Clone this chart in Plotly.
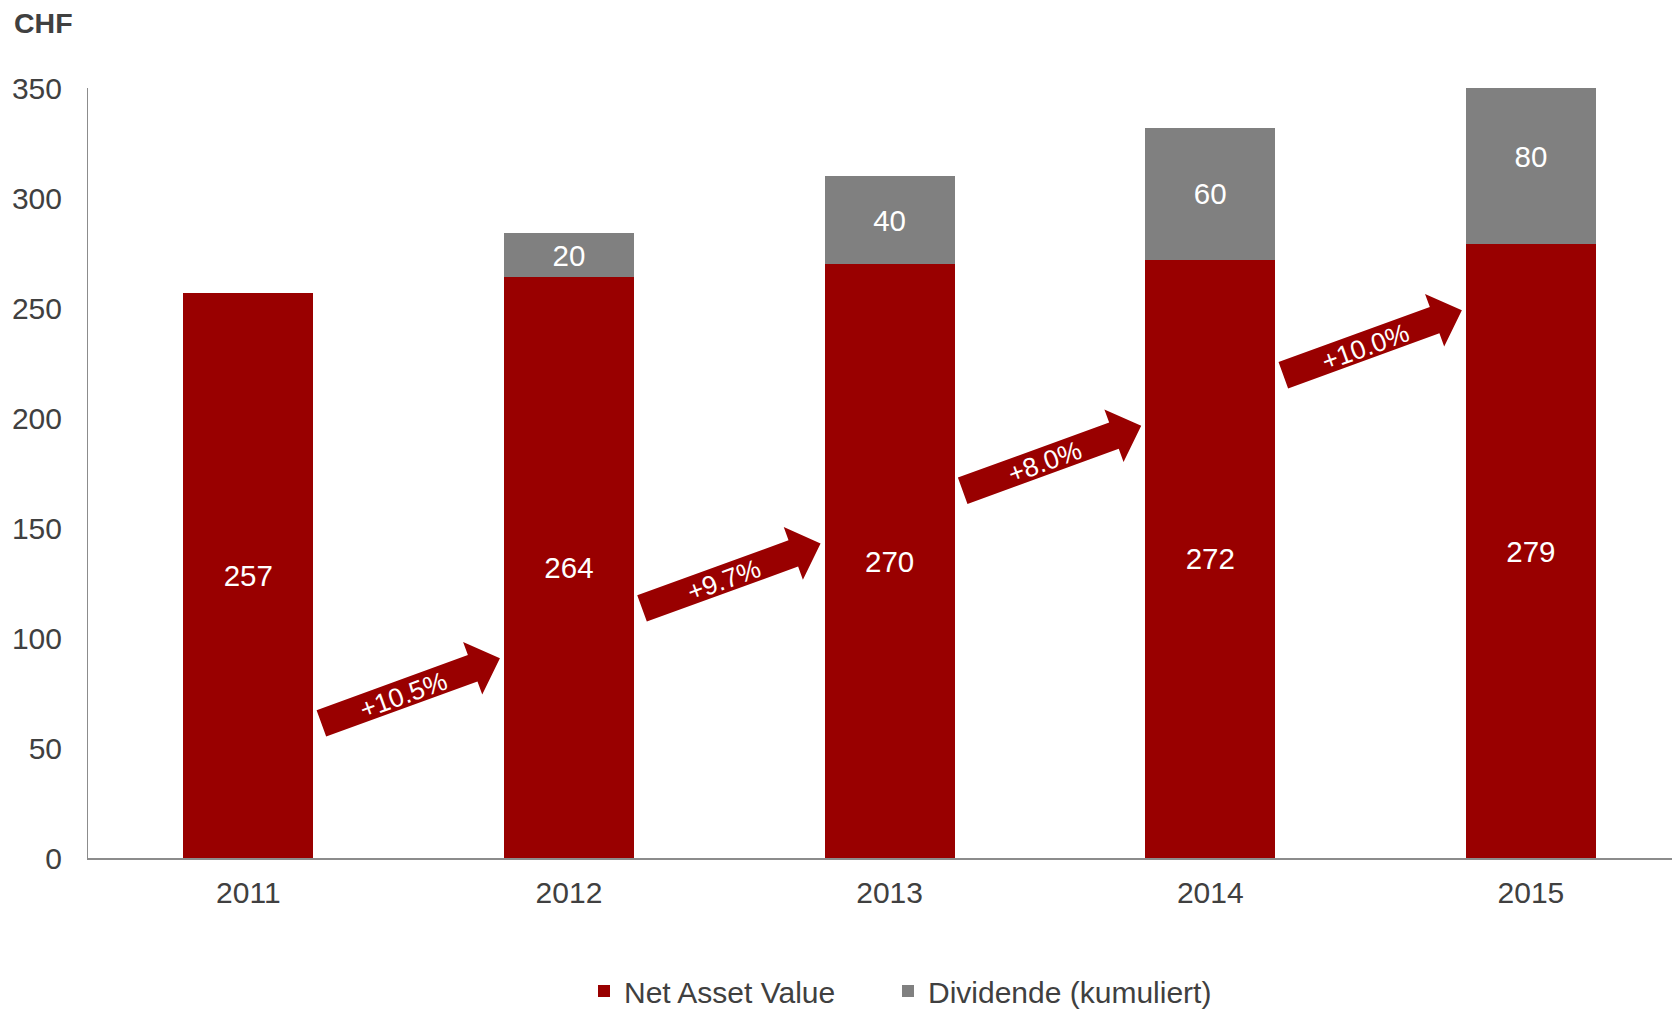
import math
import plotly.graph_objects as go

# Values (CHF per share)
years = ["2011", "2012", "2013", "2014", "2015"]
net_asset_value = [257, 264, 270, 272, 279]
dividend_cumulative = [None, 20, 40, 60, 80]
growth_labels = ["+10.5%", "+9.7%", "+8.0%", "+10.0%"]

# Styling / layout constants
RED = "#990000"
GREY = "#808080"
TEXT = "#404040"
AXIS = "#8c8c8c"
FONT = "Arial, Liberation Sans, sans-serif"
W, H = 1672, 1010
ML, MR, MT, MB = 88, 0, 88, 152
PLOT_W = W - ML - MR
PLOT_H = H - MT - MB

# vertical centre (y-axis units) of each growth arrow
ARROW_Y = [76, 128.2, 181.7, 234.2]
ARROW_ANGLE = 20.0
ARROW_LEN = 190
HEAD_LEN = 29
SHAFT_W = 28
HEAD_W = 56

# legend entry left edges and vertical centre, in pixels
LEGEND_X = [584, 888]
LEGEND_Y = 991


def arrow_path(dx=2.0):
    half = ARROW_LEN / 2
    neck = half - HEAD_LEN
    pts = [(-half, -SHAFT_W / 2), (neck, -SHAFT_W / 2), (neck, -HEAD_W / 2),
           (half, 0), (neck, HEAD_W / 2), (neck, SHAFT_W / 2), (-half, SHAFT_W / 2)]
    a = math.radians(ARROW_ANGLE)
    out = []
    for u, v in pts:
        x = u * math.cos(a) - v * math.sin(a) + dx
        y = u * math.sin(a) + v * math.cos(a)
        out.append(f"{x:.2f},{y:.2f}")
    return "M" + " L".join(out) + " Z"


label_font = dict(color="white", size=29.5, family=FONT)

fig = go.Figure()
fig.add_trace(go.Bar(
    name="Net Asset Value", x=years, y=net_asset_value, marker_color=RED,
    marker_line_width=0, text=[str(v) for v in net_asset_value],
    textposition="inside", insidetextanchor="middle", textangle=0,
    constraintext="none", textfont=label_font, legend="legend",
))
fig.add_trace(go.Bar(
    name="Dividende (kumuliert)", x=years, y=dividend_cumulative, marker_color=GREY,
    marker_line_width=0, text=[str(v) if v else "" for v in dividend_cumulative],
    textposition="inside", insidetextanchor="middle", textangle=0,
    constraintext="none", textfont=label_font, legend="legend2",
))

shapes = []
annotations = []
path = arrow_path()
for i, label in enumerate(growth_labels):
    shapes.append(dict(
        type="path", xref="x", yref="y", xsizemode="pixel", ysizemode="pixel",
        xanchor=i + 0.5, yanchor=ARROW_Y[i], path=path,
        fillcolor=RED, line=dict(width=0), layer="above",
    ))
    annotations.append(dict(
        x=i + 0.5, y=ARROW_Y[i], xref="x", yref="y", text=label,
        showarrow=False, textangle=-ARROW_ANGLE, xshift=-5, yshift=-4,
        font=dict(color="white", size=26.5, family=FONT),
    ))


def legend_box(px):
    return dict(orientation="h", x=(px - ML) / PLOT_W, xanchor="left",
                y=-(LEGEND_Y - (H - MB)) / PLOT_H, yanchor="middle",
                font=dict(size=30, color=TEXT), bgcolor="rgba(0,0,0,0)")


fig.update_layout(
    width=W, height=H, autosize=False,
    margin=dict(l=ML, r=MR, t=MT, b=MB, pad=0, autoexpand=False),
    barmode="stack", bargap=0.595,
    plot_bgcolor="white", paper_bgcolor="white",
    font=dict(family=FONT, size=30, color=TEXT),
    title=dict(text="<b>CHF</b>", x=14 / W, xanchor="left", xref="container",
               y=1 - 23 / H, yanchor="middle", yref="container",
               font=dict(size=28.5, color=TEXT, family=FONT)),
    xaxis=dict(type="category", range=[-0.5, 4.44], showline=True,
               linecolor=AXIS, linewidth=2, ticks="", showgrid=False,
               tickfont=dict(size=30, color=TEXT), ticklabelstandoff=7),
    yaxis=dict(range=[0, 350], tickvals=list(range(0, 351, 50)), showline=True,
               linecolor=AXIS, linewidth=1, ticks="", showgrid=False, zeroline=False,
               tickfont=dict(size=30, color=TEXT), ticklabelstandoff=19),
    legend=legend_box(LEGEND_X[0]),
    legend2=legend_box(LEGEND_X[1]),
    shapes=shapes, annotations=annotations, showlegend=True,
)

fig.write_html("out.html")
